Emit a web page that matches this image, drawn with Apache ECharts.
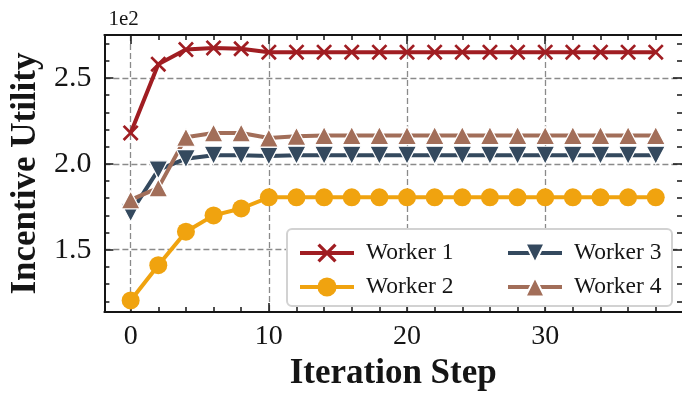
<!DOCTYPE html>
<html>
<head>
<meta charset="utf-8">
<script src="https://cdn.jsdelivr.net/npm/echarts@6/dist/echarts.min.js"></script>
<style>
  html, body { margin: 0; padding: 0; background: #fff; }
  #chart { width: 682px; height: 396px; }
</style>
</head>
<body>
<div id="chart"></div>
<script>
// Iteration steps (x) and the incentive utility of each worker (true units, axis shows them ×1e2)
const steps = [0, 2, 4, 6, 8, 10, 12, 14, 16, 18, 20, 22, 24, 26, 28, 30, 32, 34, 36, 38];
const worker1 = [218, 258, 266.5, 267.5, 267, 265, 265, 265, 265, 265, 265, 265, 265, 265, 265, 265, 265, 265, 265, 265];
const worker2 = [120.5, 141, 160.5, 170, 174, 180.5, 180.5, 180.5, 180.5, 180.5, 180.5, 180.5, 180.5, 180.5, 180.5, 180.5, 180.5, 180.5, 180.5, 180.5];
const worker3 = [171.5, 196.5, 203, 205, 205, 204.5, 205, 205, 205, 205, 205, 205, 205, 205, 205, 205, 205, 205, 205, 205];
const worker4 = [179, 186, 215.5, 218, 218, 215, 216, 216.5, 216.5, 216.5, 216.5, 216.5, 216.5, 216.5, 216.5, 216.5, 216.5, 216.5, 216.5, 216.5];

const seriesNames = ['Worker 1', 'Worker 2', 'Worker 3', 'Worker 4'];

// Tick positions
const xMajorTicks = [0, 10, 20, 30];
const xMinorTicks = [0, 2, 4, 6, 8, 10, 12, 14, 16, 18, 20, 22, 24, 26, 28, 30, 32, 34, 36, 38];
const yMajorTicks = [150, 200, 250];
const yMinorTicks = [120, 130, 140, 150, 160, 170, 180, 190, 200, 210, 220, 230, 240, 250, 260, 270];

const FONT = "'Liberation Serif', 'Times New Roman', serif";
const INK = '#151515';
const COLORS = ['#A01D22', '#F0A30F', '#34495E', '#A26E59'];

const X_MIN = -1.9, X_MAX = 39.9;
const Y_MIN = 113.7, Y_MAX = 275;

const CROSS = 'path://M0,0.12 L0.12,0 L0.5,0.38 L0.88,0 L1,0.12 L0.62,0.5 L1,0.88 L0.88,1 L0.5,0.62 L0.12,1 L0,0.88 L0.38,0.5 Z';
const DOWN_TRI = 'path://M0,0 L2,0 L1,2 Z';
const UP_TRI = 'path://M1,0 L2,2 L0,2 Z';

function pairs(ys) { return steps.map((x, i) => [x, ys[i]]); }

const lineBase = (name, color, ys, symbol, size, border) => ({
  name: name,
  type: 'line',
  data: pairs(ys),
  symbol: symbol,
  symbolSize: size,
  showAllSymbol: true,
  lineStyle: { color: color, width: 4 },
  itemStyle: { color: color, borderColor: border ? '#ffffff' : color, borderWidth: border ? 1.2 : 0, opacity: 1 },
  emphasis: { disabled: true },
  animation: false
});

function xAxisDef(pos, ticks, len, opts) {
  return Object.assign({
    type: 'value', position: pos, min: X_MIN, max: X_MAX,
    axisLine: { show: false, onZero: false },
    axisTick: { show: true, inside: true, length: len, customValues: ticks, lineStyle: { color: INK, width: 1.5 } },
    axisLabel: { show: false },
    splitLine: { show: false }
  }, opts || {});
}
function yAxisDef(pos, ticks, len, opts) {
  return Object.assign({
    type: 'value', position: pos, min: Y_MIN, max: Y_MAX,
    axisLine: { show: false, onZero: false },
    axisTick: { show: true, inside: true, length: len, customValues: ticks, lineStyle: { color: INK, width: 1.5 } },
    axisLabel: { show: false },
    splitLine: { show: false }
  }, opts || {});
}

const chart = echarts.init(document.getElementById('chart'), null, { renderer: 'canvas' });

const legendCommon = {
  orient: 'vertical', top: 235, z: 5,
  itemWidth: 54, itemHeight: 24, itemGap: 8, selectedMode: false,
  lineStyle: { width: 4 },
  textStyle: { fontSize: 23.5, fontFamily: FONT, color: INK, lineHeight: 26, padding: [0, 0, 0, 7] }
};

chart.setOption({
  backgroundColor: '#ffffff',
  animation: false,
  grid: { left: 103, top: 35, right: -1, bottom: 79, containLabel: false },
  xAxis: [
    xAxisDef('bottom', xMajorTicks, 9, {
      axisLine: { show: true, onZero: false, lineStyle: { color: INK, width: 2 } },
      axisLabel: { show: true, customValues: xMajorTicks, margin: 11, fontSize: 28, fontFamily: FONT, color: INK },
      splitLine: { show: true, lineStyle: { color: '#8a8a8a', width: 1.3, type: [6, 3] } },
      name: 'Iteration Step', nameLocation: 'middle', nameGap: 39,
      nameTextStyle: { fontSize: 35, fontWeight: 'bold', fontFamily: FONT, color: INK }
    }),
    xAxisDef('bottom', xMinorTicks, 5),
    xAxisDef('top', xMajorTicks, 9, { axisLine: { show: true, onZero: false, lineStyle: { color: INK, width: 2 } } }),
    xAxisDef('top', xMinorTicks, 5)
  ],
  yAxis: [
    yAxisDef('left', yMajorTicks, 9, {
      axisLine: { show: true, onZero: false, lineStyle: { color: INK, width: 2 } },
      axisLabel: { show: true, customValues: yMajorTicks, margin: 13, fontSize: 30, fontFamily: FONT, color: INK,
        formatter: v => (v / 100).toFixed(1) },
      splitLine: { show: true, lineStyle: { color: '#8a8a8a', width: 1.3, type: [6, 3] } },
      name: 'Incentive Utility', nameLocation: 'middle', nameGap: 53,
      nameTextStyle: { fontSize: 35, fontWeight: 'bold', fontFamily: FONT, color: INK }
    }),
    yAxisDef('left', yMinorTicks, 5, {
      name: '1e2', nameLocation: 'end', nameGap: 5,
      nameTextStyle: { fontSize: 21, fontFamily: FONT, color: INK, align: 'left', verticalAlign: 'bottom', padding: [0, 0, 0, 4] }
    }),
    yAxisDef('right', yMajorTicks, 9),
    yAxisDef('right', yMinorTicks, 5)
  ],
  graphic: [{
    type: 'rect', z: 3,
    shape: { x: 287, y: 229, width: 385, height: 77, r: 5 },
    style: { fill: '#ffffff', stroke: '#d2d2d2', lineWidth: 2 }
  }],
  legend: [
    Object.assign({ data: [seriesNames[0], seriesNames[1]], left: 293 }, legendCommon),
    Object.assign({ data: [seriesNames[2], seriesNames[3]], left: 501 }, legendCommon)
  ],
  series: [
    lineBase(seriesNames[0], COLORS[0], worker1, CROSS, 16, false),
    lineBase(seriesNames[1], COLORS[1], worker2, 'circle', 18, false),
    lineBase(seriesNames[2], COLORS[2], worker3, DOWN_TRI, [19, 18], true),
    lineBase(seriesNames[3], COLORS[3], worker4, UP_TRI, [19, 18], true)
  ]
});
</script>
</body>
</html>
